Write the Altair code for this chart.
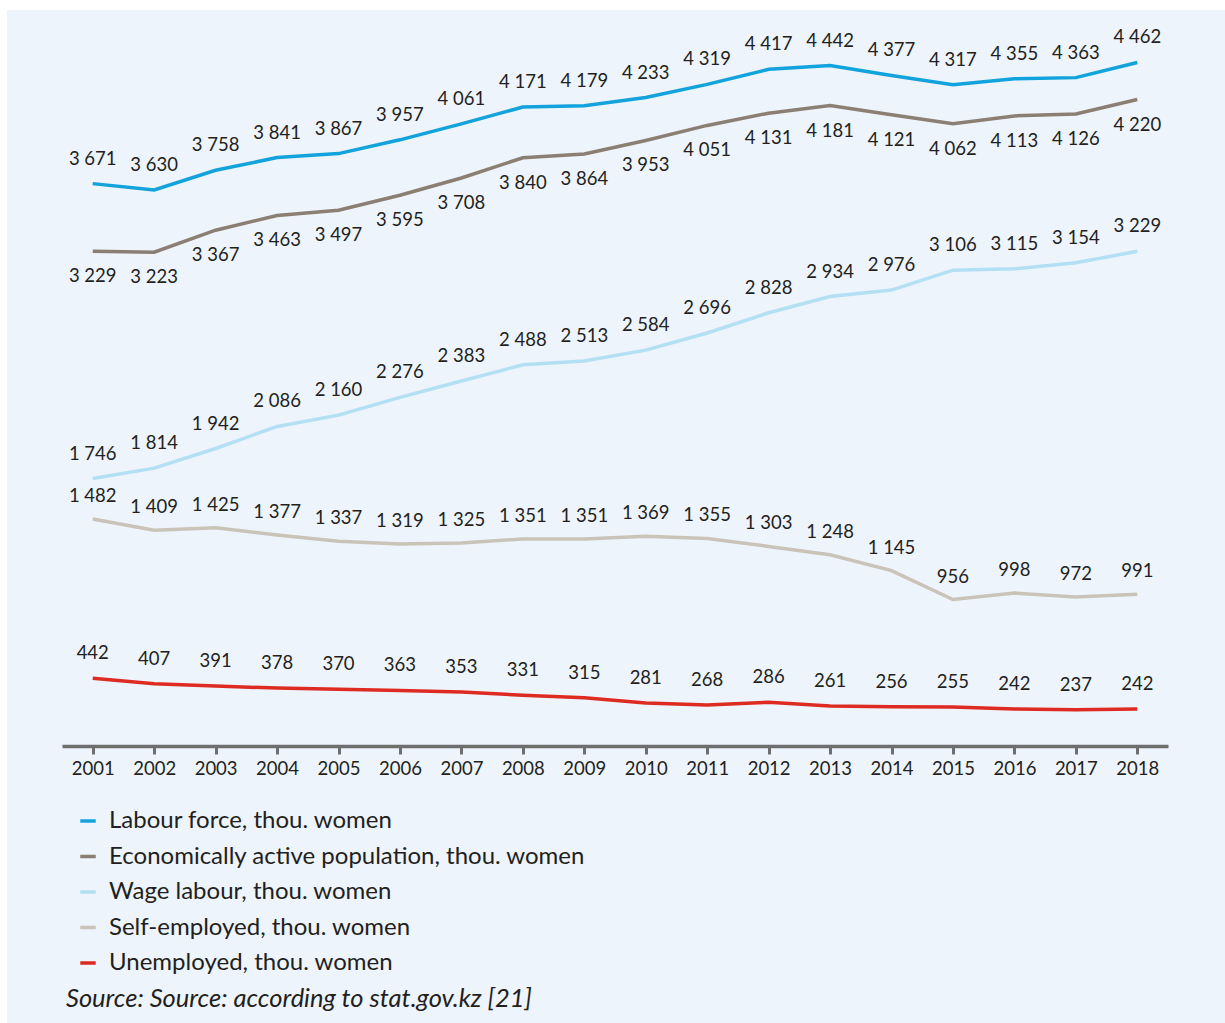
import altair as alt
import pandas as pd

years = [str(y) for y in range(2001, 2019)]

labour_force = [3671, 3630, 3758, 3841, 3867, 3957, 4061, 4171, 4179, 4233,
                4319, 4417, 4442, 4377, 4317, 4355, 4363, 4462]
econ_active = [3229, 3223, 3367, 3463, 3497, 3595, 3708, 3840, 3864, 3953,
               4051, 4131, 4181, 4121, 4062, 4113, 4126, 4220]
wage_labour = [1746, 1814, 1942, 2086, 2160, 2276, 2383, 2488, 2513, 2584,
               2696, 2828, 2934, 2976, 3106, 3115, 3154, 3229]
self_employed = [1482, 1409, 1425, 1377, 1337, 1319, 1325, 1351, 1351, 1369,
                 1355, 1303, 1248, 1145, 956, 998, 972, 991]
unemployed = [442, 407, 391, 378, 370, 363, 353, 331, 315, 281,
              268, 286, 261, 256, 255, 242, 237, 242]

series_names = [
    "Labour force, thou. women",
    "Economically active population, thou. women",
    "Wage labour, thou. women",
    "Self-employed, thou. women",
    "Unemployed, thou. women",
]
series_values = [labour_force, econ_active, wage_labour, self_employed, unemployed]
series_colors = ["#12a2dc", "#8a7f72", "#b3e0f3", "#c9c3b8", "#de2b22"]
# label placement: above (-) or below (+) the line, in pixels
label_dy = [-25, 25, -25, -23, -25]

source_note = "Source: Source: according to stat.gov.kz [21]"

rows = []
for name, vals in zip(series_names, series_values):
    for yr, v in zip(years, vals):
        rows.append({"year": yr, "series": name, "value": v,
                     "label": f"{v:,}".replace(",", " ")})
df = pd.DataFrame(rows)

FONT = "Lato"
TEXT_COLOR = "#231f20"
W, H = 1106, 720

x_enc = alt.X("year:O", scale=alt.Scale(type="point", padding=0.5),
              axis=alt.Axis(title=None, labelAngle=0, labelFontSize=18.5,
                            labelFont=FONT, labelColor=TEXT_COLOR,
                            domainColor="#6e6e6e", domainWidth=3.5,
                            tickColor="#6e6e6e", tickWidth=3, tickSize=8,
                            labelPadding=5, zindex=1))
y_enc = alt.Y("value:Q", scale=alt.Scale(domain=[0, 4700], nice=False, zero=True),
              axis=None)

color_enc = alt.Color("series:N",
                      scale=alt.Scale(domain=series_names, range=series_colors),
                      legend=alt.Legend(title=None, orient="none",
                                        legendX=14, legendY=783,
                                        symbolType="stroke", symbolSize=240,
                                        symbolStrokeWidth=3.5,
                                        labelFontSize=24, labelFont=FONT,
                                        labelColor=TEXT_COLOR, labelOffset=9,
                                        rowPadding=11.5, padding=0,
                                        labelLimit=800, zindex=1))

base = alt.Chart(df)

# panel background; the white strip above and left of it comes from padding
bg = alt.Chart(pd.DataFrame({"k": [0]})).mark_rect(color="#edf4fc").encode(
    x=alt.value(-55), x2=alt.value(1163), y=alt.value(-16), y2=alt.value(997)
)

lines = base.mark_line(strokeWidth=3.5).encode(x=x_enc, y=y_enc, color=color_enc)

labels = []
for name, dy in zip(series_names, label_dy):
    labels.append(
        base.transform_filter(alt.datum.series == name)
        .mark_text(fontSize=18.5, font=FONT, color=TEXT_COLOR, dy=dy,
                   baseline="middle")
        .encode(x=alt.X("year:O"), y=alt.Y("value:Q"), text="label:N")
    )

source = alt.Chart(pd.DataFrame({"t": [source_note]})).mark_text(
    font=FONT, fontSize=25.5, fontStyle="italic", color=TEXT_COLOR,
    align="left", baseline="middle"
).encode(x=alt.value(4), y=alt.value(973), text="t:N")

chart = alt.layer(bg, lines, *labels, source).properties(
    width=W, height=H,
    padding={"left": 7, "top": 10, "right": 0, "bottom": 0},
    background="white",
).configure_view(stroke=None, fill=None)

chart.save("out.html", embed_options={"renderer": "svg", "actions": False})
